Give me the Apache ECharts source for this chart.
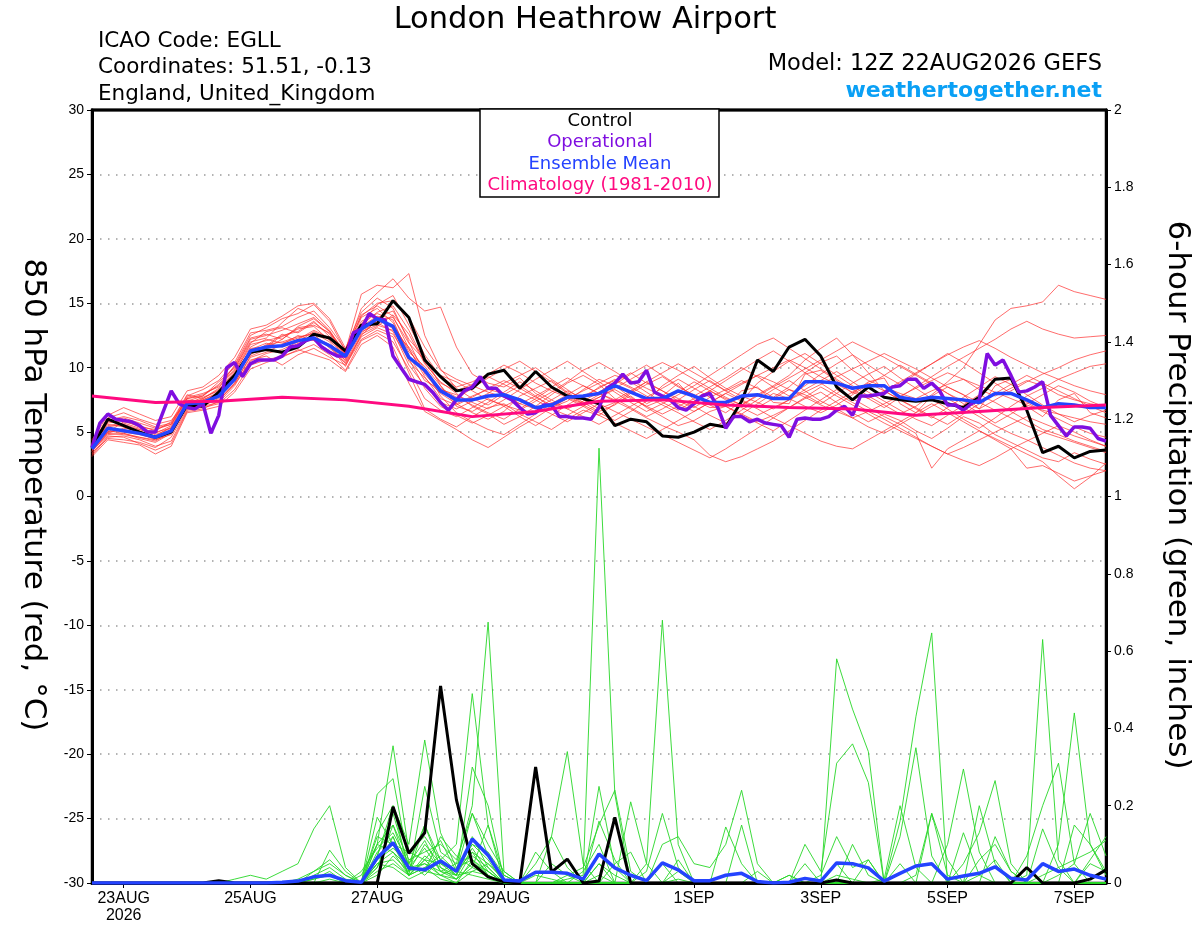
<!DOCTYPE html>
<html>
<head>
<meta charset="utf-8">
<title>London Heathrow Airport - GEFS</title>
<script src="https://cdn.jsdelivr.net/npm/echarts@6/dist/echarts.min.js"></script>
<style>
html, body { margin: 0; padding: 0; background: #fff; }
#chart { width: 1200px; height: 927px; }
</style>
</head>
<body>
<div id="chart"></div>
<script>
// x axis: hours after 12Z 22AUG2026, 6-hourly ensemble, 3-hourly operational
var tickHours = [12, 60, 108, 156, 228, 276, 324, 372];
var tickLabels = ['23AUG\n2026', '25AUG', '27AUG', '29AUG', '1SEP', '3SEP', '5SEP', '7SEP'];
var hours6 = Array.from({ length: 65 }, function (_, i) { return i * 6; });
var hours3 = Array.from({ length: 129 }, function (_, j) { return j * 3; });
var hours24 = Array.from({ length: 17 }, function (_, k) { return k * 24; });

// control run 850 hPa temperature
var controlTemp = [
  3.8, 6.0, 5.5, 5.0, 4.6, 5.0, 7.1, 7.0, 8.1, 9.4,
  11.2, 11.4, 11.2, 11.6, 12.6, 12.3, 11.3, 13.3, 13.4, 15.2,
  13.9, 10.6, 9.3, 8.2, 8.4, 9.5, 9.8, 8.4, 9.7, 8.5,
  7.8, 7.6, 7.2, 5.5, 6.0, 5.8, 4.7, 4.6, 5.0, 5.6,
  5.4, 7.4, 10.6, 9.7, 11.6, 12.2, 10.9, 8.5, 7.5, 8.5,
  7.7, 7.5, 7.4, 7.5, 7.2, 6.9, 7.7, 9.1, 9.2, 6.7,
  3.4, 3.9, 3.0, 3.5, 3.6
];

// operational run (3-hourly)
var operTemp = [
  3.8, 5.7, 6.4, 6.0, 5.9, 5.8, 5.5, 5.0, 5.0, 6.6,
  8.2, 7.2, 6.9, 6.8, 7.2, 4.9, 6.3, 10.0, 10.4, 9.3,
  10.3, 10.6, 10.6, 10.6, 10.9, 11.6, 11.7, 12.1, 12.3, 11.6,
  11.2, 10.9, 10.9, 12.7, 13.0, 14.2, 13.8, 13.7, 10.9, 10.0,
  9.1, 8.9, 8.7, 8.1, 7.3, 6.7, 7.5, 8.2, 8.5, 9.3,
  8.4, 8.4, 7.8, 7.5, 6.9, 6.4, 6.5, 7.1, 7.1, 6.2,
  6.2, 6.1, 6.1, 6.0, 6.9, 8.4, 8.8, 9.5, 8.8, 8.9,
  9.8, 8.1, 7.8, 7.5, 6.9, 6.7, 7.2, 7.8, 8.0, 6.9,
  5.3, 6.2, 6.2, 5.8, 6.0, 5.7, 5.6, 5.5, 4.6, 6.0,
  6.1, 6.0, 6.0, 6.2, 6.7, 7.0, 6.3, 7.8, 7.8, 7.9,
  8.0, 8.5, 8.6, 9.1, 9.1, 8.4, 8.8, 8.2, 7.1, 7.1,
  6.7, 7.2, 7.5, 11.1, 10.2, 10.6, 9.4, 8.1, 8.2, 8.5,
  8.9, 6.3, 5.5, 4.7, 5.4, 5.4, 5.3, 4.5, 4.3
];

// ensemble mean temperature
var meanTemp = [
  3.7, 5.3, 5.1, 4.9, 4.6, 5.1, 7.2, 7.3, 7.8, 9.1,
  11.3, 11.6, 11.7, 12.1, 12.3, 11.7, 10.9, 13.0, 13.8, 13.2,
  10.8, 9.8, 8.2, 7.5, 7.5, 7.8, 7.9, 7.5, 6.9, 7.1,
  7.7, 7.8, 8.0, 8.6, 8.1, 7.6, 7.6, 8.2, 7.8, 7.3,
  7.3, 7.8, 7.9, 7.6, 7.6, 8.9, 8.9, 8.8, 8.4, 8.6,
  8.6, 7.7, 7.5, 7.7, 7.6, 7.5, 7.3, 8.0, 8.0, 7.5,
  6.9, 7.2, 7.1, 6.9, 6.9
];

// climatology 1981-2010 (daily, 12Z)
var climTemp = [7.8, 7.3, 7.4, 7.7, 7.5, 7.0, 6.2, 6.6, 7.4, 7.5, 7.1, 6.9, 6.8, 6.3, 6.6, 6.9, 7.1];

// ensemble members, 850 hPa temperature
var mem01 = [3.8,5.2,5.0,4.8,4.5,5.2,7.0,7.4,8.0,9.3, 11.0,11.8,12.0,12.4,12.6,11.5,10.6,13.2,14.0,13.0, 10.5,9.2,8.0,7.2,7.8,8.3,8.0,7.2,6.8,7.5, 8.2,7.6,8.5,9.0,8.4,7.2,7.8,8.8,7.5,6.9, 7.0,8.2,8.5,7.3,7.2,9.5,9.8,9.0,8.0,8.9, 9.2,7.2,6.5,7.8,8.5,7.9,6.8,8.6,9.1,7.0, 6.2,7.5,8.0,6.5,6.1];
var mem02 = [4.0,5.6,5.4,5.2,4.9,5.5,7.6,7.9,8.6,9.9, 12.2,12.5,12.9,13.4,13.9,12.8,11.2,14.6,15.8,16.9, 15.4,14.4,14.7,11.6,9.5,8.8,8.5,9.2,8.0,7.3, 6.8,7.4,8.1,8.9,9.6,8.8,8.2,7.4,6.9,7.7, 8.3,9.0,8.4,7.7,8.5,9.6,10.4,10.9,9.8,9.0, 8.5,8.0,7.6,8.2,8.7,9.1,8.3,7.8,8.4,9.0, 8.6,7.9,7.5,7.2,7.0];
var mem03 = [3.6,5.0,5.8,5.5,5.1,5.8,7.9,7.6,8.4,10.2, 12.5,13.1,13.8,14.2,14.9,13.6,11.3,15.7,16.4,16.2, 17.3,12.5,9.9,8.4,7.6,7.1,7.9,8.6,7.8,6.9, 7.4,8.3,9.1,8.6,7.7,7.0,7.5,8.1,8.9,8.2, 7.6,7.1,7.9,8.6,9.4,10.6,11.5,12.3,11.0,9.6, 8.2,7.5,6.8,6.1,6.9,7.7,8.5,9.3,8.7,7.9, 7.1,6.4,5.8,6.3,6.7];
var mem04 = [3.2,4.6,4.7,4.4,3.9,4.3,6.7,7.0,7.3,8.6, 10.6,10.9,10.2,11.0,11.5,10.8,10.2,12.2,12.9,12.4, 9.6,6.8,6.0,5.4,6.2,6.9,7.2,6.4,5.8,5.2, 6.0,6.7,6.3,7.2,7.8,6.9,6.2,5.5,5.9,6.6, 7.0,6.4,5.8,6.3,6.9,7.6,8.1,7.3,6.5,5.8, 6.4,5.9,5.1,4.5,5.3,6.2,5.7,4.8,4.2,3.6, 3.0,2.7,3.4,2.9,2.5];
var mem05 = [4.2,6.1,6.5,6.0,5.6,5.9,7.4,7.8,8.9,10.0, 12.0,12.3,13.5,14.6,14.1,12.9,11.0,13.9,14.6,13.5, 11.2,10.1,8.6,7.2,6.5,6.0,6.6,7.8,8.4,9.0, 8.1,7.3,6.6,7.1,8.0,8.7,9.3,8.5,7.9,7.1, 6.5,7.4,8.8,9.7,10.5,11.1,10.3,9.4,8.6,7.8, 7.1,6.4,7.0,7.9,8.9,10.0,11.8,13.7,14.6,14.8, 15.1,16.4,15.9,15.6,15.3];
var mem06 = [3.5,4.8,4.9,4.6,4.3,5.0,6.9,7.1,7.6,8.8, 10.9,11.4,11.1,11.9,12.2,11.7,10.1,12.6,13.2,14.1, 12.6,10.3,8.9,8.0,7.0,6.4,5.6,6.2,7.0,7.9, 8.8,9.4,8.7,7.6,6.9,6.2,6.8,7.5,8.3,9.0, 8.2,7.5,6.9,7.6,8.3,7.9,7.2,8.0,8.8,9.5, 10.1,9.2,8.4,7.6,6.8,6.0,5.3,6.1,7.0,7.8, 8.4,9.1,9.6,10.1,10.3];
var mem07 = [4.1,5.5,5.7,5.3,5.0,5.3,7.2,7.7,8.2,9.6, 11.8,12.1,12.4,13.0,13.2,12.1,10.9,13.4,14.9,15.6, 13.3,11.0,9.3,8.5,8.9,9.5,10.2,9.6,8.8,8.2, 7.7,7.1,6.5,5.9,6.6,7.4,8.6,9.4,10.1,9.2, 8.4,7.8,7.3,6.8,7.5,8.3,9.0,9.7,8.9,8.1, 7.4,6.7,6.0,5.5,6.3,7.1,7.9,7.3,6.6,5.9, 5.2,4.8,4.3,3.9,3.5];
var mem08 = [3.9,5.3,5.1,5.0,4.7,5.4,7.5,7.3,7.8,9.0, 11.5,11.6,12.5,12.8,13.6,12.4,10.7,12.9,13.5,12.8, 10.2,8.6,7.3,6.8,7.4,8.0,8.8,9.4,10.0,9.1, 8.3,7.5,6.8,7.3,8.1,8.9,8.2,7.6,7.0,6.3, 5.7,6.4,7.2,8.0,7.6,7.0,6.5,7.1,7.9,8.7, 9.4,10.2,9.5,8.8,8.0,7.2,6.5,5.7,6.4,7.2, 7.9,8.6,8.1,7.4,6.9];
var mem09 = [3.4,4.5,4.4,4.2,3.8,4.6,6.8,6.9,7.2,8.3, 10.2,10.6,10.9,11.3,11.8,11.0,9.8,12.1,12.7,12.0, 9.9,7.6,6.7,6.2,6.9,7.6,7.0,6.2,5.5,6.3, 7.1,7.8,8.4,9.1,8.5,7.8,7.1,6.5,5.8,5.2, 5.9,6.7,7.5,8.3,9.0,8.2,7.4,6.8,6.1,5.4, 4.9,5.6,6.3,7.0,7.6,6.9,6.2,5.5,4.9,4.4, 3.8,3.2,2.6,2.2,2.0];
var mem10 = [4.4,6.3,6.9,6.4,5.9,6.2,8.2,8.5,9.4,10.8, 13.0,13.3,14.0,14.8,15.0,13.8,11.5,14.3,15.4,14.6, 12.0,9.5,8.1,7.6,8.4,9.2,9.9,10.5,9.7,8.9, 8.0,7.2,7.9,8.7,9.5,10.2,9.4,8.6,7.8,8.5, 9.2,10.0,9.3,8.5,7.8,8.6,9.5,10.3,11.0,10.2, 9.4,8.7,9.5,10.3,11.1,10.4,9.6,8.8,8.0,7.3, 6.6,6.0,5.4,4.9,4.6];
var mem11 = [3.7,5.1,4.9,4.5,4.2,4.9,7.1,7.5,8.1,9.5, 11.4,11.9,11.6,12.2,12.9,12.3,11.1,12.8,13.3,12.9, 11.6,9.9,7.8,6.5,5.8,5.2,4.8,5.6,6.4,7.2, 7.9,8.6,8.0,7.4,6.8,6.1,5.5,5.0,4.4,3.2, 2.7,3.1,3.7,4.3,5.1,5.9,6.7,7.4,8.1,8.8, 8.2,7.5,6.9,6.2,5.6,6.4,7.2,8.0,8.7,9.4, 8.8,8.2,7.6,7.0,6.5];
var mem12 = [3.3,4.7,4.6,4.1,3.6,4.1,6.6,6.8,7.4,8.8, 10.8,11.2,11.8,12.5,12.1,11.3,10.4,12.5,13.7,13.9, 11.9,10.6,9.4,8.9,8.2,7.5,7.1,6.7,7.4,8.1, 8.9,9.8,10.4,9.7,8.9,8.1,7.3,6.7,7.4,8.2, 9.0,9.8,10.6,11.3,10.5,9.6,8.8,8.0,7.3,6.6, 6.0,5.3,4.6,3.9,3.3,2.8,2.4,3.0,3.7,4.3, 4.9,5.5,5.0,4.4,3.9];
var mem13 = [4.0,5.8,6.1,5.7,5.3,5.6,7.7,8.0,8.5,9.8, 11.9,12.8,13.1,12.7,13.5,12.6,11.0,13.6,14.2,13.7, 10.9,9.0,8.3,7.9,7.3,6.8,7.5,8.3,9.1,9.8, 10.5,9.7,8.9,8.1,7.3,6.6,7.2,7.9,8.6,9.4, 10.2,11.0,11.8,12.3,11.5,10.7,9.9,9.1,8.3,7.6, 6.9,7.7,8.5,9.3,10.1,10.8,11.5,12.2,13.0,13.6, 13.0,12.6,12.3,12.4,12.5];
var mem14 = [3.1,4.4,4.2,4.0,3.3,3.9,6.5,6.7,7.0,8.1, 9.9,10.4,10.8,11.4,11.0,10.6,9.7,11.8,12.5,11.6, 8.8,6.6,5.9,5.2,4.4,3.8,4.6,5.4,6.1,6.9, 7.6,7.0,6.3,5.7,5.1,4.5,5.2,5.9,6.6,7.3, 8.0,7.4,6.8,6.1,5.5,4.9,4.3,3.9,3.7,4.4, 5.1,5.8,6.5,7.2,6.5,5.8,5.1,4.4,3.7,2.2, 2.4,1.8,1.2,1.6,2.0];
var mem15 = [3.5,4.9,5.3,5.1,4.6,5.1,7.3,7.2,7.7,9.2, 11.2,11.5,12.2,13.2,13.8,12.8,10.8,13.1,13.9,14.4, 12.2,10.8,8.6,7.0,6.6,7.3,8.1,8.9,8.2,7.5, 6.8,6.2,5.6,6.3,7.0,7.7,8.4,9.1,8.4,7.7, 7.0,6.3,5.7,5.1,5.9,6.7,7.5,8.3,7.6,6.9, 6.2,5.6,4.9,2.2,3.7,4.4,5.1,4.5,3.9,3.3, 2.7,1.6,0.6,1.5,2.6];
var mem16 = [4.3,5.9,6.2,5.9,5.4,5.7,7.8,8.3,9.0,10.4, 12.7,12.9,13.2,13.9,14.4,13.1,11.4,14.0,15.0,15.2, 13.9,11.6,9.8,9.1,8.6,8.1,7.7,7.2,7.8,8.5, 9.2,8.6,8.0,7.5,8.2,8.9,9.6,10.3,9.6,8.9, 8.2,8.8,9.4,10.0,10.6,10.0,9.3,8.7,8.1,7.6, 8.2,8.9,9.6,10.3,11.0,11.6,12.1,11.5,10.8,10.2, 9.6,9.1,8.6,8.2,7.9];
var mem17 = [3.7,5.0,5.2,4.9,4.4,4.8,7.0,7.6,8.3,9.7, 11.6,12.2,11.9,12.3,12.7,12.0,10.5,12.7,13.6,13.3, 11.4,9.6,8.4,7.7,7.1,6.5,6.0,6.8,7.6,8.4, 7.8,7.2,7.7,8.3,7.6,7.0,6.4,7.0,7.6,8.2, 7.5,6.9,6.3,6.9,7.5,8.1,8.7,9.3,9.9,10.5, 11.1,10.5,9.9,9.2,8.5,7.9,7.3,6.7,6.1,5.5, 5.0,4.6,4.2,3.8,3.4];
var mem18 = [3.9,5.4,5.6,5.2,4.8,5.3,7.4,7.5,8.0,9.4, 11.1,11.7,12.6,12.0,12.8,12.2,11.1,13.3,14.3,14.8, 12.9,10.4,8.8,8.2,8.7,9.3,8.7,8.1,7.5,6.8, 6.3,7.0,7.7,8.4,9.1,9.8,10.4,9.8,9.1,8.4, 7.7,7.1,7.8,8.5,9.2,9.9,10.6,11.3,12.0,11.4, 10.8,10.1,9.4,8.7,8.0,7.4,6.8,7.5,8.2,8.9, 9.5,10.0,10.6,11.0,11.3];
var mem19 = [3.6,4.9,4.8,4.6,4.4,5.0,7.0,7.1,7.5,8.7, 10.5,11.1,11.4,12.0,12.4,11.8,10.3,12.4,13.1,12.6, 10.7,8.4,7.0,6.3,5.7,6.3,7.0,7.6,7.0,6.4, 5.8,6.5,7.2,6.6,6.0,5.4,4.8,4.2,3.6,3.0, 3.7,4.5,5.3,6.1,6.9,7.7,8.5,7.8,7.1,6.4, 5.7,5.1,4.5,3.9,3.3,3.8,4.4,5.0,5.6,6.2, 5.7,5.2,4.7,4.3,3.9];
var mem20 = [4.1,5.7,5.9,5.4,5.2,5.6,7.6,7.8,8.7,10.1, 12.3,12.6,12.2,13.1,13.3,12.7,11.2,14.1,14.8,14.0, 11.5,9.3,7.6,7.1,7.7,8.4,9.0,8.4,7.7,7.1, 7.6,8.2,8.8,9.4,9.0,8.4,7.8,7.2,6.6,7.3, 8.0,8.7,9.4,8.9,8.3,7.7,7.1,6.6,6.1,6.6, 7.2,7.8,8.4,9.0,9.6,9.1,8.6,8.1,7.6,7.1, 6.7,6.4,6.1,5.8,5.6];
var memberTemps = [mem01, mem02, mem03, mem04, mem05, mem06, mem07, mem08, mem09, mem10,
                   mem11, mem12, mem13, mem14, mem15, mem16, mem17, mem18, mem19, mem20];

// 6-hour precipitation (inches)
var controlPrecip = [
  0,0,0,0,0,0,0,0,0.006,0, 0,0,0,0,0,0,0,0,0,0.197,
  0.077,0.13,0.51,0.215,0.05,0.016,0.003,0,0.30,0.028, 0.062,0,0.005,0.17,0,0,0,0,0,0,
  0,0,0,0,0,0,0,0.008,0,0, 0,0,0,0,0,0,0,0,0,0.04,
  0,0,0,0.01,0.034
];
var meanPrecip = [
  0,0,0,0,0,0,0,0,0,0, 0,0,0.002,0.005,0.016,0.02,0.006,0.002,0.065,0.104,
  0.039,0.034,0.057,0.03,0.114,0.072,0.008,0.005,0.028,0.028, 0.025,0.01,0.075,0.039,0.02,0.006,0.052,0.034,0.006,0.006,
  0.02,0.025,0.004,0,0.002,0.012,0.005,0.052,0.05,0.039, 0.005,0.025,0.044,0.05,0.01,0.018,0.025,0.042,0.012,0.008,
  0.05,0.03,0.036,0.02,0.01
];
var pr01 = [0,0,0,0,0,0,0,0,0,0, 0,0,0,0,0.01,0.02,0,0,0.04,0.15, 0.03,0.05,0.02,0,0.06,0.02,0,0,0,0, 0.01,0.02,1.125,0.23,0,0,0,0.01,0,0, 0,0,0,0,0,0,0,0.02,0.01,0, 0,0,0,0,0,0,0,0,0,0, 0,0,0,0,0];
var pr02 = [0,0,0,0,0,0,0,0,0,0, 0,0,0,0,0.02,0.04,0.01,0,0.06,0.1, 0.02,0.25,0.08,0.05,0.2,0.675,0.03,0,0,0, 0,0,0,0,0,0.03,0.18,0.04,0,0, 0,0,0,0,0,0,0,0,0,0, 0,0,0,0,0,0,0.02,0.06,0,0, 0,0,0,0,0];
var pr03 = [0,0,0,0,0,0,0,0,0,0, 0,0,0,0.01,0.03,0.05,0.02,0,0.1,0.355, 0.08,0.12,0.06,0.1,0.49,0.15,0,0,0,0, 0,0,0.05,0.02,0,0.05,0.68,0.1,0,0, 0,0,0,0,0,0,0,0,0,0, 0,0,0,0,0,0,0,0,0,0, 0,0,0,0,0];
var pr04 = [0,0,0,0,0,0,0,0,0,0, 0,0,0,0,0,0.01,0,0,0.13,0.2, 0.1,0.37,0.13,0.04,0.1,0.08,0.02,0,0.05,0.12, 0.34,0.05,0,0,0,0,0,0,0,0, 0,0,0,0,0,0,0,0.58,0.45,0.34, 0,0,0,0,0,0,0,0,0,0, 0,0,0,0,0];
var pr05 = [0,0,0,0,0,0,0,0,0,0, 0,0,0,0,0,0,0,0,0.23,0.27, 0.05,0.15,0.04,0.02,0.3,0.2,0.01,0,0,0, 0,0,0.16,0.06,0,0,0,0,0,0, 0,0,0,0,0,0,0,0,0,0, 0,0.16,0.43,0.647,0,0,0,0,0,0, 0,0,0,0,0];
var pr06 = [0,0,0,0,0,0,0,0,0,0.01, 0.02,0.01,0.03,0.05,0.14,0.2,0.04,0,0.08,0.12, 0.02,0.06,0.11,0.03,0.18,0.07,0,0,0,0, 0,0,0,0,0.21,0.05,0,0,0,0, 0,0,0,0,0,0,0,0,0,0, 0,0,0,0,0,0,0,0,0,0.02, 0.63,0.06,0,0,0];
var pr07 = [0,0,0,0,0,0,0,0,0,0, 0,0,0,0,0.01,0.03,0,0,0.05,0.08, 0.04,0.03,0.12,0.07,0.04,0.15,0.02,0,0,0, 0.02,0.04,0.15,0.24,0.03,0,0,0,0,0, 0,0,0,0,0,0,0,0,0,0, 0,0,0,0,0,0,0,0,0,0.07, 0.2,0.31,0.05,0,0];
var pr08 = [0,0,0,0,0,0,0,0,0,0, 0,0,0,0,0,0,0,0,0.17,0.1, 0.04,0.09,0.03,0.01,0.05,0.03,0,0,0.02,0.01, 0,0,0.05,0,0,0,0,0,0,0, 0.145,0.05,0,0,0,0,0,0,0,0, 0,0,0,0,0,0,0,0,0,0, 0,0.1,0.44,0.1,0.02];
var pr09 = [0,0,0,0,0,0,0,0,0,0, 0,0,0,0,0,0,0,0,0.05,0.06, 0.02,0.04,0.01,0,0.03,0.02,0,0,0,0.12, 0.04,0,0,0,0,0,0.1,0.12,0.05,0.04, 0.1,0.24,0.05,0,0,0,0,0,0,0, 0,0,0,0,0.1,0.295,0.08,0,0,0, 0,0,0,0,0];
var pr10 = [0,0,0,0,0,0,0,0,0,0, 0,0,0,0,0,0,0,0.03,0.09,0.13, 0.05,0.02,0.06,0.03,0.02,0.01,0,0,0.08,0.03, 0,0,0,0,0,0,0,0,0,0, 0,0,0,0,0,0.1,0.03,0.31,0.36,0.26, 0,0,0,0,0,0.05,0.13,0.265,0.05,0, 0,0,0,0,0];
var pr11 = [0,0,0,0,0,0,0,0,0,0, 0,0,0,0,0,0,0,0,0.02,0.07, 0.03,0.1,0.05,0.02,0.12,0.04,0,0,0,0, 0,0,0.02,0,0,0,0,0,0,0, 0,0,0,0,0,0,0,0,0,0, 0,0.12,0.35,0.07,0,0,0.2,0.05,0,0, 0.02,0.04,0.06,0.08,0.11];
var pr12 = [0,0,0,0,0,0,0,0,0,0, 0,0,0,0,0,0,0,0,0.04,0.12, 0.02,0.06,0.02,0.01,0.08,0.05,0.01,0,0,0, 0,0,0,0.05,0.08,0,0,0,0,0, 0,0,0,0,0,0,0.02,0.12,0.04,0.06, 0,0,0.02,0.18,0.02,0,0,0,0,0, 0,0.02,0.05,0.18,0.07];
var pr13 = [0,0,0,0,0,0,0,0,0,0, 0,0,0,0,0,0.085,0.03,0,0.1,0.15, 0.06,0.08,0.1,0.06,0.18,0.1,0.03,0,0,0.05, 0.02,0,0,0,0,0,0,0,0,0, 0,0,0.03,0,0.02,0,0,0,0,0, 0,0,0,0,0,0,0.06,0.1,0.03,0, 0,0,0,0.05,0.03];
var pr14 = [0,0,0,0,0,0,0,0,0,0, 0,0,0,0,0.03,0.06,0.02,0,0.07,0.2, 0.03,0.15,0.06,0.02,0.09,0.03,0,0,0,0, 0,0.03,0.1,0,0,0,0.05,0,0,0, 0,0,0,0,0,0,0,0,0.1,0.02, 0,0,0,0.18,0.06,0,0,0,0,0, 0.14,0.04,0,0,0];
var pr15 = [0,0,0,0,0,0,0,0,0,0, 0,0,0,0,0,0,0,0,0.03,0.05, 0.02,0.07,0.04,0.01,0.04,0.02,0,0,0,0, 0,0,0,0,0,0,0,0,0,0, 0,0,0,0,0.02,0,0,0,0,0, 0,0,0,0,0,0,0,0.12,0.03,0, 0,0,0.15,0.1,0.03];
var pr16 = [0,0,0,0,0,0,0,0,0,0, 0,0,0,0,0,0,0,0,0.05,0.04, 0.01,0.03,0.02,0.04,0.06,0.03,0,0,0,0, 0,0,0.25,0.04,0,0,0,0,0,0, 0,0,0,0,0,0,0,0,0,0, 0.01,0.2,0.04,0,0,0,0,0,0,0, 0,0,0,0,0];
var pr17 = [0,0,0,0,0,0,0,0,0,0, 0,0,0,0,0,0,0,0.02,0.1,0.08, 0.02,0.04,0.07,0.03,0.1,0.06,0,0,0,0, 0,0,0,0,0,0,0,0.03,0,0, 0,0,0,0,0,0,0,0,0,0, 0,0,0,0,0,0.13,0.02,0,0,0, 0,0,0,0,0];
var pr18 = [0,0,0,0,0,0,0,0,0,0, 0,0,0,0,0,0,0,0,0.06,0.09, 0.05,0.11,0.03,0.05,0.07,0.04,0,0,0,0, 0,0,0,0,0,0,0,0,0,0, 0,0.15,0,0,0,0,0,0,0,0.06, 0,0,0,0,0,0,0,0,0,0, 0,0,0,0,0];
var pr19 = [0,0,0,0,0,0,0,0,0,0, 0,0,0,0,0,0,0,0,0.12,0.1, 0.08,0.06,0.05,0.03,0.08,0.02,0,0,0,0, 0,0,0,0,0,0,0,0,0,0, 0,0,0,0,0,0.05,0,0,0,0, 0,0.05,0,0,0,0,0,0,0,0, 0,0,0,0.06,0.12];
var pr20 = [0,0,0,0,0,0,0,0,0,0, 0,0,0,0,0,0,0,0,0.07,0.18, 0.04,0.05,0.03,0.02,0.03,0.05,0.01,0,0,0, 0,0,0,0,0,0,0,0.06,0,0, 0,0,0,0,0,0,0,0.05,0,0, 0,0,0,0,0,0,0,0,0,0, 0,0,0,0,0];
var memberPrecip = [pr01, pr02, pr03, pr04, pr05, pr06, pr07, pr08, pr09, pr10,
                    pr11, pr12, pr13, pr14, pr15, pr16, pr17, pr18, pr19, pr20];

var FONT = 'Liberation Sans, Arial, Helvetica, sans-serif';
var WIDE = '"DejaVu Sans", Verdana, sans-serif';

function pairs(hrs, vals) {
  return vals.map(function (v, i) { return [hrs[i], v]; });
}

var myChart = echarts.init(document.getElementById('chart'));

var series = [];
// red ensemble spaghetti
memberTemps.forEach(function (m, k) {
  series.push({
    name: 'member' + (k + 1), type: 'line', yAxisIndex: 0,
    data: pairs(hours6, m), symbol: 'none', silent: true, z: 2,
    lineStyle: { color: 'rgba(255,45,45,0.7)', width: 1 }
  });
});
// green precipitation spaghetti
memberPrecip.forEach(function (m, k) {
  series.push({
    name: 'precip' + (k + 1), type: 'line', yAxisIndex: 1,
    data: pairs(hours6, m), symbol: 'none', silent: true, z: 2,
    lineStyle: { color: 'rgba(40,215,40,0.9)', width: 1 }
  });
});
series.push({
  name: 'Control precip', type: 'line', yAxisIndex: 1, data: pairs(hours6, controlPrecip),
  symbol: 'none', z: 3, lineStyle: { color: '#000', width: 3 }
});
series.push({
  name: 'Mean precip', type: 'line', yAxisIndex: 1, data: pairs(hours6, meanPrecip),
  symbol: 'none', z: 4, lineStyle: { color: '#2443ff', width: 3.5 }
});
series.push({
  name: 'Control', type: 'line', yAxisIndex: 0, data: pairs(hours6, controlTemp),
  symbol: 'none', z: 5, lineStyle: { color: '#000', width: 3 }
});
series.push({
  name: 'Operational', type: 'line', yAxisIndex: 0, data: pairs(hours3, operTemp),
  symbol: 'none', z: 6, lineStyle: { color: '#7f0ee0', width: 3.5 }
});
series.push({
  name: 'Ensemble Mean', type: 'line', yAxisIndex: 0, data: pairs(hours6, meanTemp),
  symbol: 'none', z: 7, lineStyle: { color: '#2443ff', width: 3.5 }
});
series.push({
  name: 'Climatology (1981-2010)', type: 'line', yAxisIndex: 0, data: pairs(hours24, climTemp),
  symbol: 'none', z: 8, lineStyle: { color: '#ff0a80', width: 3 }
});

var option = {
  animation: false,
  backgroundColor: '#fff',
  textStyle: { fontFamily: FONT },
  grid: {
    left: 92, right: 94, top: 110, bottom: 44,
    show: true, borderColor: '#000', borderWidth: 2.5, backgroundColor: 'transparent'
  },
  xAxis: {
    type: 'value', min: 0, max: 384,
    axisLine: { show: true, onZero: false, lineStyle: { color: '#000', width: 3 } },
    axisTick: { show: true, customValues: tickHours, length: 5, lineStyle: { color: '#000', width: 1 } },
    axisLabel: {
      customValues: tickHours, color: '#000', fontSize: 16, margin: 7, lineHeight: 17, fontFamily: FONT,
      formatter: function (v) {
        var k = tickHours.indexOf(Math.round(v));
        return k >= 0 ? tickLabels[k] : '';
      }
    },
    splitLine: { show: false }
  },
  yAxis: [
    {
      type: 'value', min: -30, max: 30, interval: 5, position: 'left',
      axisLine: { show: true, lineStyle: { color: '#000', width: 3 } },
      axisTick: { show: true, length: 5, lineStyle: { color: '#000', width: 1 } },
      axisLabel: { color: '#000', fontSize: 14, margin: 8, fontFamily: FONT },
      splitLine: {
        show: true, showMinLine: false, showMaxLine: false,
        lineStyle: { color: '#9a9a9a', width: 1.5, type: [1.5, 6.5] }
      }
    },
    {
      type: 'value', min: 0, max: 2, interval: 0.2, position: 'right',
      axisLine: { show: true, lineStyle: { color: '#000', width: 3 } },
      axisTick: { show: true, length: 5, lineStyle: { color: '#000', width: 1 } },
      axisLabel: { color: '#000', fontSize: 14, margin: 8, fontFamily: FONT },
      splitLine: { show: false }
    }
  ],
  graphic: [
    // plot frame top edge
    { type: 'line', z: 90, shape: { x1: 91, y1: 110, x2: 1107, y2: 110 }, style: { stroke: '#000', lineWidth: 3 } },
    { type: 'text', x: 585, y: 5, style: { text: 'London Heathrow Airport', font: '30.5px ' + WIDE, fill: '#000', align: 'center', verticalAlign: 'top' } },
    { type: 'text', x: 98, y: 30.5, style: { text: 'ICAO Code: EGLL', font: '21.5px ' + WIDE, fill: '#000', verticalAlign: 'top' } },
    { type: 'text', x: 98, y: 56.5, style: { text: 'Coordinates: 51.51, -0.13', font: '21.5px ' + WIDE, fill: '#000', verticalAlign: 'top' } },
    { type: 'text', x: 98, y: 83, style: { text: 'England, United_Kingdom', font: '21.5px ' + WIDE, fill: '#000', verticalAlign: 'top' } },
    { type: 'text', x: 1102, y: 53, style: { text: 'Model: 12Z 22AUG2026 GEFS', font: '22.5px ' + WIDE, fill: '#000', align: 'right', verticalAlign: 'top' } },
    { type: 'text', x: 1102, y: 80, style: { text: 'weathertogether.net', font: 'bold 22px ' + WIDE, fill: '#0aa0f5', align: 'right', verticalAlign: 'top' } },
    {
      type: 'rect', shape: { x: 480, y: 109, width: 239, height: 88 }, z: 100,
      style: { fill: '#fff', stroke: '#000', lineWidth: 1.5 }
    },
    { type: 'text', x: 600, y: 121, z: 101, style: { text: 'Control', font: '18px ' + WIDE, fill: '#000', align: 'center', verticalAlign: 'middle' } },
    { type: 'text', x: 600, y: 142, z: 101, style: { text: 'Operational', font: '18px ' + WIDE, fill: '#7f0ee0', align: 'center', verticalAlign: 'middle' } },
    { type: 'text', x: 600, y: 164, z: 101, style: { text: 'Ensemble Mean', font: '18px ' + WIDE, fill: '#2443ff', align: 'center', verticalAlign: 'middle' } },
    { type: 'text', x: 600, y: 185, z: 101, style: { text: 'Climatology (1981-2010)', font: '18px ' + WIDE, fill: '#ff0a80', align: 'center', verticalAlign: 'middle' } },
    {
      type: 'text', x: 33, y: 495, rotation: -Math.PI / 2,
      style: { text: '850 hPa Temperature (red, \u00B0C)', font: '31px ' + WIDE, fill: '#000', align: 'center', verticalAlign: 'middle' }
    },
    {
      type: 'text', x: 1177, y: 495, rotation: -Math.PI / 2,
      style: { text: '6-hour Precipitation (green, inches)', font: '31px ' + WIDE, fill: '#000', align: 'center', verticalAlign: 'middle' }
    }
  ],
  series: series
};

myChart.setOption(option);
</script>
</body>
</html>
